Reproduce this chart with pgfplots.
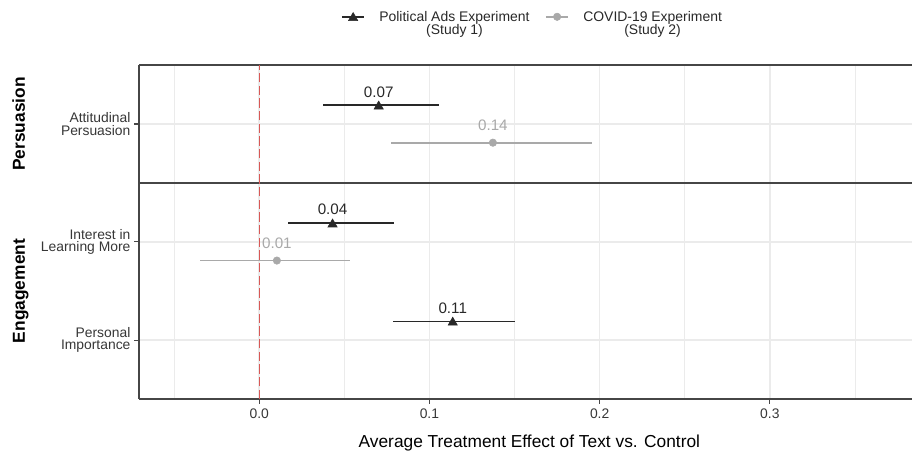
\documentclass[border=0pt]{standalone}
\usepackage{fontspec}
\setmainfont{Liberation Sans}
\usepackage{pgfplots}
\pgfplotsset{compat=1.18}
\usepackage{pgfplotstable}
\definecolor{sone}{RGB}{40,40,40}
\definecolor{stwo}{RGB}{169,169,169}
\definecolor{gridc}{RGB}{235,235,235}
\definecolor{panelframe}{RGB}{70,70,70}
\definecolor{ticktext}{RGB}{55,55,55}

\pgfplotstableread{
x y xp xm lab
0.0702 1.19 0.0353 0.0327 0.07
}\persA
\pgfplotstableread{
x y xp xm lab
0.1373 0.81 0.0584 0.0597 0.14
}\persB
\pgfplotstableread{
x y xp xm lab
0.0431 2.19 0.0359 0.0262 0.04
0.1137 1.19 0.0363 0.0353 0.11
}\engA
\pgfplotstableread{
x y xp xm lab
0.0104 1.81 0.0427 0.0451 0.01
}\engB

\pgfplotsset{
  panel/.style={
    scale only axis, width=579.75pt,
    xmin=-0.0706, xmax=0.3835, ymin=0.4,
    axis x line*=box, axis y line*=left,
    axis line style={panelframe, line width=0.8pt},
    xtick={0,0.1,0.2,0.3}, minor xtick={-0.05,0.05,0.15,0.25,0.35},
    xmajorgrids, xminorgrids, ymajorgrids,
    major grid style={gridc, line width=1.2pt},
    minor grid style={gridc, line width=0.7pt},
    tick align=outside, major tick length=3.75pt, minor tick length=0pt,
    tick style={panelframe, line width=0.8pt},
    ytick pos=left, xtick pos=bottom,
    yticklabel style={align=right, font=\fontsize{10.4}{9.4}\selectfont, text=ticktext, inner sep=0pt, xshift=-2.5pt},
    xticklabel style={font=\fontsize{10.4}{12}\selectfont, text=ticktext},
    /pgf/number format/.cd, fixed, fixed zerofill, precision=1, assume math mode=true, /pgfplots/.cd,
    ylabel style={at={(axis description cs:-0.1475,0.5)}, anchor=base, font=\fontsize{13}{15}\selectfont\bfseries, text=black},
    legend image code/.code={\draw[#1, line width=1.3pt] (0pt,5pt) -- (17pt,5pt); \draw[#1] plot coordinates {(8.5pt,5pt)};},
  },
  sA/.style={only marks, mark=triangle*, color=sone, mark size=4pt,
    mark options={yshift=-0.8pt},
    error bars/.cd, x dir=both, x explicit, error mark=none,
    error bar style={line width=1.3pt, sone}, /pgfplots/.cd,
    nodes near coords, point meta=explicit symbolic,
    every node near coord/.append style={font=\fontsize{11.4}{12}\selectfont, text=sone, anchor=base, inner sep=0pt, yshift=7pt}},
  sB/.style={only marks, mark=*, color=stwo, mark size=2.8pt,
    error bars/.cd, x dir=both, x explicit, error mark=none,
    error bar style={line width=1.3pt, stwo}, /pgfplots/.cd,
    nodes near coords, point meta=explicit symbolic,
    every node near coord/.append style={font=\fontsize{11.4}{12}\selectfont, text=stwo, anchor=base, inner sep=0pt, yshift=9.3pt}},
}

\begin{document}
\begin{tikzpicture}
\useasboundingbox (0,0) rectangle (684pt,339pt);
\begin{axis}[panel, at={(104.25pt,201.75pt)}, anchor=south west, height=88.5pt,
  ymax=1.6, ytick={1}, yticklabels={{Attitudinal\\Persuasion}},
  xticklabels={}, xtick style={draw=none},
  ylabel={Persuasion},
  legend columns=2,
  legend style={draw=none, fill=none, at={(axis description cs:0.5094,1.352)}, anchor=center,
    font=\fontsize{10.45}{9.75}\selectfont, cells={align=center}, text=sone,
    /tikz/every odd column/.append style={column sep=8.5pt},
    /tikz/every even column/.append style={column sep=9.5pt}},
]
\addplot[sA] table[x=x, y=y, x error plus=xp, x error minus=xm, meta=lab] {\persA};
\addlegendentry{Political Ads Experiment\\(Study 1)}
\addplot[sB] table[x=x, y=y, x error plus=xp, x error minus=xm, meta=lab] {\persB};
\addlegendentry{COVID-19 Experiment\\(Study 2)}
\end{axis}
\begin{axis}[panel, at={(104.25pt,39.75pt)}, anchor=south west, height=162pt,
  ymax=2.6, ytick={1,2}, yticklabels={{Personal\\Importance},{Interest in\\Learning More}},
  ylabel={Engagement},
  xlabel={Average Treatment Effect of Text vs. Control},
  xlabel style={at={(axis description cs:0.505,-0.2245)}, anchor=base, font=\fontsize{13}{15}\selectfont, text=black},
]
\addplot[sA] table[x=x, y=y, x error plus=xp, x error minus=xm, meta=lab] {\engA};
\addplot[sB] table[x=x, y=y, x error plus=xp, x error minus=xm, meta=lab] {\engB};
\end{axis}
% reference line at zero, spanning both panels
\begin{axis}[at={(104.25pt,39.75pt)}, anchor=south west, scale only axis,
  width=579.75pt, height=250.5pt, hide axis,
  xmin=-0.0706, xmax=0.3835, ymin=0, ymax=1]
\addplot[color={rgb,255:red,216;green,88;blue,86}, line width=1pt, dash pattern=on 7pt off 2.5pt, mark=none] coordinates {(0,0) (0,1)};
\end{axis}
\end{tikzpicture}
\end{document}
